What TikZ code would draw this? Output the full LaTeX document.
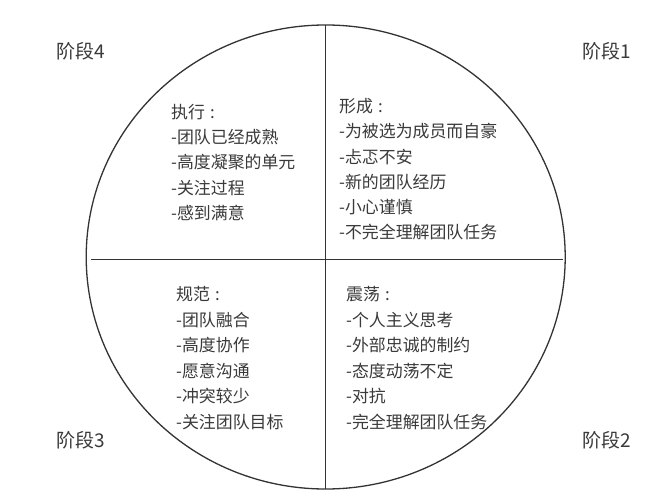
\documentclass[tikz,border=0pt]{standalone}
\usepackage{fontspec}
\newfontfamily\cjk{Noto Sans CJK SC}
\definecolor{ink}{HTML}{333333}
\definecolor{txt}{HTML}{3A3A3A}
\newcommand{\qcolon}{\hspace{0.3em}:}
\begin{document}
\begin{tikzpicture}[x=1pt,y=-1pt,
  rule/.style={draw=ink,line width=1.3pt},
  item/.style={anchor=west,inner sep=0pt,text=txt,font=\cjk\fontsize{16.9}{20}\selectfont},
  stage/.style={anchor=center,inner sep=0pt,text=txt,font=\cjk\fontsize{19}{22}\selectfont}]
\useasboundingbox (0,0) rectangle (660,502);
\fill[white] (0,0) rectangle (660,502);
\coordinate (c) at (325.7,257);
\coordinate (top) at (325.7,25);
\coordinate (bot) at (325.7,489);
\coordinate (lft) at (91,259.3);
\coordinate (rgt) at (563,259.3);
\draw[rule] (c) ellipse [x radius=239.5, y radius=232];
\draw[rule] (top) -- (bot);
\draw[rule] (lft) -- (rgt);
% stage labels
\node[stage] (s4) at (81,51) {阶段4};
\node[stage] (s1) at (607,51) {阶段1};
\node[stage] (s3) at (81,440) {阶段3};
\node[stage] (s2) at (607,440) {阶段2};
% quadrant texts
\foreach \t [count=\i] in {执行\qcolon,-团队已经成熟,-高度凝聚的单元,-关注过程,-感到满意}
  \node[item] (q4-\i) at (171,{112+25.3*(\i-1)}) {\t};
\foreach \t [count=\i] in {形成\qcolon,-为被选为成员而自豪,-忐忑不安,-新的团队经历,-小心谨慎,-不完全理解团队任务}
  \node[item] (q1-\i) at (339,{106+25.3*(\i-1)}) {\t};
\foreach \t [count=\i] in {规范\qcolon,-团队融合,-高度协作,-愿意沟通,-冲突较少,-关注团队目标}
  \node[item] (q3-\i) at (176,{294+25.6*(\i-1)}) {\t};
\foreach \t [count=\i] in {震荡\qcolon,-个人主义思考,-外部忠诚的制约,-态度动荡不定,-对抗,-完全理解团队任务}
  \node[item] (q2-\i) at (346,{294+25.6*(\i-1)}) {\t};
\end{tikzpicture}
\end{document}
